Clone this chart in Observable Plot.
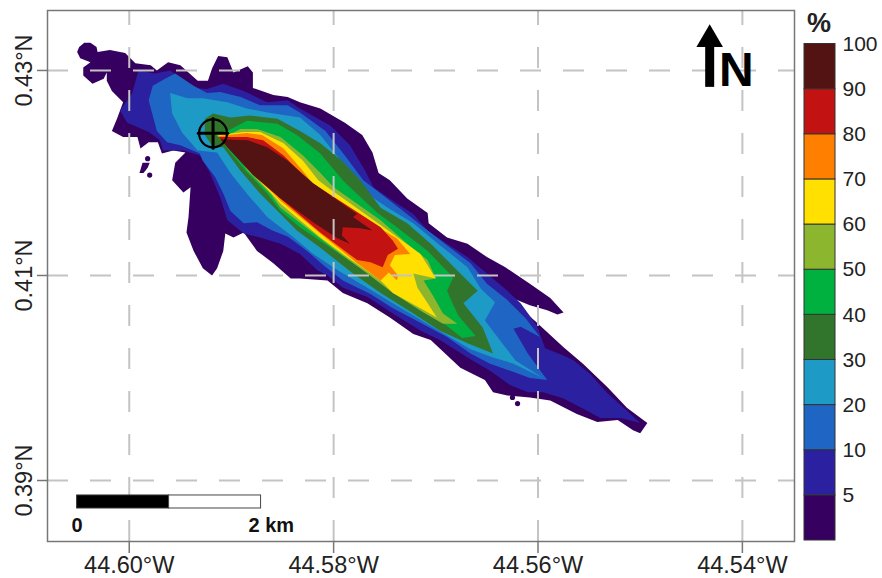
<!DOCTYPE html>
<html><head><meta charset="utf-8">
<style>html,body{margin:0;padding:0;background:#fff}#wrap{position:relative;width:882px;height:578px;overflow:hidden}#bar{position:absolute;left:790px;top:0}#map{position:absolute;left:0;top:0}</style>
<script src="https://cdn.jsdelivr.net/npm/d3@7"></script>
<script src="https://cdn.jsdelivr.net/npm/@observablehq/plot@0.6"></script>
</head><body><div id="wrap"><div id="map"></div><div id="bar"></div></div>
<script>
// Outlines of the probability classes, [longitude W, latitude N]
const above0 = [[44.6051,.4318],[44.6049,.4323],[44.6044,.4327],[44.6038,.4327],[44.6032,.4323],[44.6031,.4318],[44.6019,.4320],[44.6004,.4317],[44.5994,.4307],[44.5979,.4305],[44.5973,.4300],[44.5962,.4308],[44.5950,.4305],[44.5933,.4290],[44.5923,.4290],[44.5919,.4302],[44.5913,.4314],[44.5904,.4313],[44.5898,.4298],[44.5884,.4304],[44.5879,.4298],[44.5879,.4283],[44.5859,.4276],[44.5845,.4274],[44.5833,.4269],[44.5813,.4263],[44.5789,.4249],[44.5772,.4237],[44.5762,.4220],[44.5756,.4200],[44.5745,.4193],[44.5728,.4175],[44.5708,.4161],[44.5707,.4151],[44.5689,.4137],[44.5669,.4131],[44.5650,.4118],[44.5632,.4108],[44.5608,.4092],[44.5588,.4078],[44.5575,.4064],[44.5581,.4062],[44.5591,.4066],[44.5608,.4071],[44.5630,.4080],[44.5601,.4054],[44.5575,.4030],[44.5556,.4014],[44.5532,.3991],[44.5513,.3971],[44.5493,.3956],[44.5500,.3946],[44.5507,.3949],[44.5522,.3959],[44.5542,.3957],[44.5562,.3965],[44.5588,.3978],[44.5608,.3981],[44.5630,.3983],[44.5644,.3986],[44.5652,.3998],[44.5676,.4010],[44.5705,.4037],[44.5722,.4043],[44.5745,.4059],[44.5767,.4073],[44.5791,.4083],[44.5806,.4095],[44.5833,.4097],[44.5842,.4097],[44.5859,.4112],[44.5875,.4124],[44.5888,.4142],[44.5898,.4137],[44.5906,.4141],[44.5908,.4124],[44.5914,.4107],[44.5919,.4100],[44.5928,.4107],[44.5937,.4124],[44.5944,.4142],[44.5942,.4157],[44.5940,.4186],[44.5947,.4181],[44.5958,.4193],[44.5955,.4210],[44.5945,.4220],[44.5957,.4222],[44.5968,.4219],[44.5972,.4230],[44.5981,.4230],[44.5989,.4224],[44.5992,.4235],[44.6006,.4235],[44.6017,.4241],[44.6012,.4253],[44.6006,.4269],[44.6017,.4280],[44.6022,.4290],[44.6022,.4298],[44.6025,.4292],[44.6036,.4287],[44.6045,.4295],[44.6045,.4303],[44.6038,.4308],[44.6048,.4312]];
const above0Patch = [[44.5987,.4210],[44.5980,.4210],[44.5982,.4205],[44.5986,.4200],[44.5990,.4200]];
const specksLon = [44.5982,44.5980,44.5625,44.5620];
const specksLat = [.4214,.4198,.3981,.3975];
const above5 = [[44.6009,.4261],[44.5997,.4278],[44.5991,.4300],[44.5975,.4297],[44.5960,.4300],[44.5937,.4283],[44.5924,.4282],[44.5908,.4287],[44.5888,.4280],[44.5865,.4269],[44.5845,.4271],[44.5833,.4263],[44.5803,.4246],[44.5784,.4227],[44.5769,.4202],[44.5761,.4186],[44.5742,.4173],[44.5722,.4160],[44.5708,.4144],[44.5689,.4131],[44.5669,.4118],[44.5650,.4102],[44.5630,.4085],[44.5617,.4073],[44.5601,.4051],[44.5593,.4029],[44.5575,.4022],[44.5565,.4017],[44.5549,.4004],[44.5532,.3985],[44.5513,.3968],[44.5500,.3956],[44.5519,.3961],[44.5539,.3961],[44.5552,.3968],[44.5575,.3980],[44.5595,.3986],[44.5610,.3986],[44.5627,.3993],[44.5647,.4007],[44.5669,.4020],[44.5696,.4037],[44.5715,.4046],[44.5742,.4063],[44.5767,.4079],[44.5791,.4088],[44.5806,.4100],[44.5816,.4105],[44.5833,.4121],[44.5852,.4131],[44.5872,.4137],[44.5888,.4141],[44.5904,.4154],[44.5911,.4176],[44.5921,.4200],[44.5931,.4217],[44.5947,.4222],[44.5967,.4222],[44.5970,.4232],[44.5981,.4240],[44.6002,.4249]];
const above10 = [[44.5981,.4271],[44.5977,.4285],[44.5965,.4292],[44.5955,.4297],[44.5937,.4285],[44.5924,.4278],[44.5911,.4279],[44.5891,.4274],[44.5872,.4266],[44.5845,.4266],[44.5833,.4259],[44.5808,.4241],[44.5789,.4217],[44.5771,.4193],[44.5754,.4180],[44.5732,.4163],[44.5712,.4147],[44.5686,.4127],[44.5666,.4112],[44.5650,.4092],[44.5630,.4076],[44.5612,.4058],[44.5598,.4040],[44.5617,.4050],[44.5624,.4048],[44.5610,.4024],[44.5591,.3998],[44.5608,.4000],[44.5627,.4007],[44.5647,.4014],[44.5666,.4024],[44.5689,.4040],[44.5715,.4054],[44.5742,.4068],[44.5764,.4082],[44.5791,.4095],[44.5810,.4110],[44.5826,.4124],[44.5845,.4138],[44.5860,.4144],[44.5875,.4152],[44.5888,.4151],[44.5901,.4163],[44.5908,.4180],[44.5916,.4196],[44.5928,.4212],[44.5931,.4219],[44.5950,.4227],[44.5963,.4230],[44.5973,.4241]];
const above20 = [[44.5960,.4278],[44.5943,.4273],[44.5928,.4273],[44.5904,.4269],[44.5885,.4263],[44.5865,.4259],[44.5833,.4254],[44.5813,.4237],[44.5789,.4207],[44.5772,.4183],[44.5747,.4166],[44.5722,.4151],[44.5699,.4132],[44.5669,.4108],[44.5656,.4087],[44.5642,.4074],[44.5652,.4056],[44.5635,.4034],[44.5622,.4017],[44.5595,.4000],[44.5624,.4014],[44.5644,.4020],[44.5666,.4028],[44.5702,.4049],[44.5742,.4073],[44.5767,.4088],[44.5796,.4105],[44.5820,.4121],[44.5839,.4137],[44.5865,.4157],[44.5885,.4180],[44.5901,.4200],[44.5914,.4220],[44.5933,.4222],[44.5948,.4239],[44.5958,.4258]];
const above30 = [[44.5926,.4237],[44.5926,.4253],[44.5918,.4258],[44.5901,.4254],[44.5882,.4256],[44.5855,.4253],[44.5833,.4241],[44.5813,.4229],[44.5792,.4212],[44.5774,.4193],[44.5754,.4166],[44.5728,.4151],[44.5705,.4131],[44.5676,.4102],[44.5659,.4085],[44.5673,.4073],[44.5654,.4049],[44.5644,.4024],[44.5669,.4034],[44.5696,.4046],[44.5722,.4063],[44.5754,.4083],[44.5781,.4102],[44.5813,.4127],[44.5836,.4144],[44.5849,.4157],[44.5872,.4180],[44.5891,.4202],[44.5908,.4225],[44.5918,.4225]];
const above40 = [[44.5916,.4239],[44.5904,.4241],[44.5885,.4251],[44.5855,.4248],[44.5836,.4237],[44.5813,.4219],[44.5791,.4193],[44.5784,.4186],[44.5757,.4161],[44.5738,.4147],[44.5708,.4124],[44.5683,.4098],[44.5689,.4085],[44.5686,.4078],[44.5678,.4061],[44.5661,.4041],[44.5674,.4039],[44.5696,.4056],[44.5715,.4069],[44.5747,.4090],[44.5774,.4107],[44.5806,.4129],[44.5833,.4147],[44.5852,.4163],[44.5865,.4180],[44.5886,.4202],[44.5908,.4229]];
const above50 = [[44.5916,.4239],[44.5903,.4237],[44.5891,.4243],[44.5875,.4243],[44.5852,.4235],[44.5830,.4217],[44.5813,.4200],[44.5800,.4186],[44.5754,.4154],[44.5728,.4131],[44.5708,.4115],[44.5700,.4097],[44.5712,.4095],[44.5702,.4079],[44.5693,.4063],[44.5679,.4053],[44.5693,.4053],[44.5712,.4064],[44.5742,.4083],[44.5767,.4102],[44.5800,.4126],[44.5826,.4146],[44.5852,.4166],[44.5862,.4180],[44.5884,.4202],[44.5901,.4227],[44.5913,.4235]];
const above60 = [[44.5913,.4237],[44.5888,.4240],[44.5872,.4240],[44.5849,.4229],[44.5830,.4212],[44.5815,.4193],[44.5806,.4186],[44.5751,.4147],[44.5715,.4121],[44.5700,.4097],[44.5722,.4102],[44.5718,.4088],[44.5712,.4079],[44.5699,.4059],[44.5715,.4068],[44.5742,.4083],[44.5754,.4095],[44.5787,.4118],[44.5813,.4137],[44.5852,.4170],[44.5859,.4178],[44.5880,.4200],[44.5903,.4229]];
const above70 = [[44.5913,.4236],[44.5885,.4239],[44.5870,.4237],[44.5849,.4224],[44.5830,.4202],[44.5815,.4183],[44.5751,.4144],[44.5738,.4136],[44.5725,.4121],[44.5740,.4120],[44.5745,.4110],[44.5737,.4100],[44.5738,.4095],[44.5746,.4103],[44.5754,.4095],[44.5777,.4112],[44.5813,.4141],[44.5852,.4173],[44.5857,.4178],[44.5879,.4200],[44.5901,.4227]];
const above80 = [[44.5913,.4235],[44.5885,.4235],[44.5869,.4232],[44.5849,.4217],[44.5830,.4198],[44.5825,.4193],[44.5754,.4147],[44.5742,.4134],[44.5737,.4126],[44.5747,.4120],[44.5752,.4108],[44.5764,.4113],[44.5777,.4115],[44.5813,.4142],[44.5852,.4175],[44.5879,.4200],[44.5905,.4228]];
const above90 = [[44.5911,.4233],[44.5884,.4232],[44.5865,.4225],[44.5845,.4212],[44.5820,.4190],[44.5777,.4160],[44.5781,.4157],[44.5762,.4144],[44.5774,.4146],[44.5791,.4147],[44.5792,.4139],[44.5784,.4131],[44.5796,.4136],[44.5820,.4152],[44.5852,.4175],[44.5879,.4198],[44.5905,.4226]];

const classNames  = ["0-5","5-10","10-20","20-30","30-40","40-50","50-60","60-70","70-80","80-90","90-100"];
const classColors = ["#35005f","#2a20a0","#1f66c4","#1e9ac6","#31752d","#00b140","#8db62f","#ffe000","#ff8000","#c21212","#541313"];
const barLabels   = ["","5","10","20","30","40","50","60","70","80","90","100"];
const outlines = [["0-5a",above0,0],["0-5b",above0Patch,0],["5",above5,1],["10",above10,2],["20",above20,3],["30",above30,4],["40",above40,5],["50",above50,6],["60",above60,7],["70",above70,8],["80",above80,9],["90",above90,10]];
const rows = outlines.flatMap(([id,pts,c]) => pts.map(([lon,lat]) => ({lon,lat,id,cls:classNames[c]})));

const lonTicks = [44.60,44.58,44.56,44.54];
const latTicks = [0.43,0.41,0.39];
const lonDomain = [44.6080,44.5349];
const latDomain = [0.38405,0.43585];

const ventLon = 44.5918, ventLat = 0.42387, ventArm = 0.00145;
const ventCross = [
  {lon:ventLon-ventArm,lat:ventLat,k:"h"},{lon:ventLon+ventArm,lat:ventLat,k:"h"},
  {lon:ventLon,lat:ventLat-ventArm,k:"v"},{lon:ventLon,lat:ventLat+ventArm,k:"v"}];

const northHead = [[44.5432,.4345],[44.5445,.4323],[44.5419,.4323]];
const northShaft = [[44.5432,.4326],[44.5432,.4284]];
const northLabel = [44.5406,.4300];

const scaleLon = [44.6051,44.5961,44.5871];
const scaleLat = [.38854,.38727];
const scaleTextLat = .38561;

const sans = "'Liberation Sans',Arial,sans-serif";
const map = Plot.plot({
  width:882,height:578,marginLeft:47,marginRight:88,marginTop:10,marginBottom:37,
  style:{fontFamily:sans,background:"transparent",overflow:"visible"},
  x:{domain:lonDomain,axis:null},
  y:{domain:latDomain,axis:null},
  color:{type:"ordinal",domain:classNames,range:classColors},
  marks:[
    Plot.line(rows,{x:"lon",y:"lat",z:"id",fill:"cls",stroke:"none"}),
    Plot.dot(specksLon.map((lon,i)=>({lon,lat:specksLat[i]})),{x:"lon",y:"lat",r:2.6,fill:classColors[0],stroke:"none"}),
    Plot.ruleX(lonTicks,{y1:()=>latDomain[0],y2:()=>latDomain[1],stroke:"#c4c4c4",strokeWidth:2,strokeDasharray:"21,22"}),
    Plot.ruleY(latTicks,{x1:()=>lonDomain[0],x2:()=>lonDomain[1],stroke:"#c4c4c4",strokeWidth:2,strokeDasharray:"21,22"}),
    Plot.dot([{lon:ventLon,lat:ventLat}],{x:"lon",y:"lat",r:14,stroke:"#000",strokeWidth:2.2,fill:"none"}),
    Plot.line(ventCross,{x:"lon",y:"lat",z:"k",stroke:"#000",strokeWidth:3}),
    Plot.line(northHead,{x:d=>d[0],y:d=>d[1],fill:"#000",stroke:"none"}),
    Plot.line(northShaft,{x:d=>d[0],y:d=>d[1],stroke:"#000",strokeWidth:9,strokeLinecap:"butt"}),
    Plot.text(["N"],{x:()=>northLabel[0],y:()=>northLabel[1],text:d=>d,fontSize:48,fontWeight:"bold",fill:"#000",textAnchor:"middle",lineAnchor:"middle"}),
    Plot.rect([0],{x1:()=>scaleLon[0],x2:()=>scaleLon[1],y1:()=>scaleLat[1],y2:()=>scaleLat[0],fill:"#000",stroke:"#333"}),
    Plot.rect([0],{x1:()=>scaleLon[1],x2:()=>scaleLon[2],y1:()=>scaleLat[1],y2:()=>scaleLat[0],fill:"#fff",stroke:"#444"}),
    Plot.text(["0"],{x:()=>scaleLon[0],y:()=>scaleTextLat,text:d=>d,fontSize:20,fontWeight:"bold",fill:"#111",textAnchor:"middle",lineAnchor:"middle"}),
    Plot.text(["2 km"],{x:()=>scaleLon[2]-0.0010,y:()=>scaleTextLat,text:d=>d,fontSize:20,fontWeight:"bold",fill:"#111",textAnchor:"middle",lineAnchor:"middle"}),
    Plot.frame({stroke:"#777",strokeWidth:1.5}),
    Plot.axisX(lonTicks,{anchor:"bottom",tickSize:12,tickPadding:3,fontSize:23.5,label:null,stroke:"#777",strokeWidth:1.5,fill:"#222",color:"#222",tickFormat:d=>d.toFixed(2)+"°W"}),
    Plot.axisY(latTicks,{anchor:"left",tickSize:10,tickPadding:6,fontSize:23.5,label:null,stroke:"#777",strokeWidth:1.5,fill:"#222",color:"#222",tickRotate:-90,textAnchor:"middle",tickFormat:d=>d.toFixed(2)+"°N"})
  ]
});
document.getElementById("map").append(map);

const bar = Plot.plot({
  width:92,height:578,marginLeft:14,marginRight:47,marginTop:43.5,marginBottom:38,
  style:{fontFamily:sans,background:"transparent",overflow:"visible"},
  x:{domain:[0,1],axis:null},
  y:{domain:[0,11],axis:null},
  color:{type:"ordinal",domain:classNames,range:classColors},
  marks:[
    Plot.rect(classNames,{x1:()=>0,x2:()=>1,y1:(d,i)=>i,y2:(d,i)=>i+1,fill:d=>d,stroke:"#333",strokeWidth:1}),
    Plot.text(barLabels,{x:()=>1,y:(d,i)=>i,text:d=>d,dx:7,fontSize:21,fill:"#222",textAnchor:"start",lineAnchor:"middle"}),
    Plot.text(["%"],{x:()=>0.47,y:()=>11,dy:-21,text:d=>d,fontSize:27,fontWeight:"bold",fill:"#222",textAnchor:"middle",lineAnchor:"middle"})
  ]
});
document.getElementById("bar").append(bar);
</script></body></html>
